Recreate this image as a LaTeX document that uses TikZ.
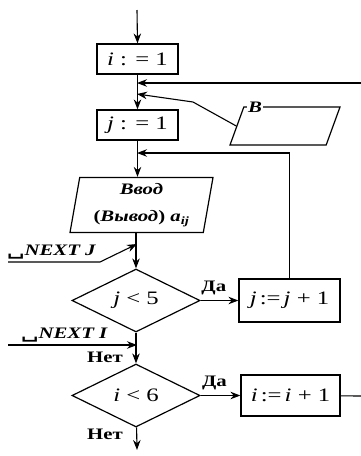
\documentclass[tikz,border=0pt]{standalone}
\usepackage{fontspec}
\setmainfont{Liberation Serif}[FakeStretch=1.3]
\newfontfamily\symfont{DejaVu Serif}[FakeStretch=1.3]
\usetikzlibrary{arrows.meta, positioning, shapes.geometric}
\newcommand{\vis}{{\symfont\char"2423}}

\begin{document}
\begin{tikzpicture}[x=1pt, y=-1pt,
    every node/.style={font=\fontsize{16}{27}\selectfont\bfseries},
    formula/.style={font=\fontsize{19}{22}\selectfont\mdseries},
    proc/.style={draw, line width=1.2pt, inner sep=0pt, formula,
                minimum width=81pt, minimum height=30pt},
    io/.style={draw, line width=1.2pt, trapezium, trapezium stretches body,
                trapezium left angle=80, trapezium right angle=100,
                inner xsep=0pt, align=center},
    cond/.style={draw, line width=1.2pt, diamond, inner sep=0pt, formula,
                minimum width=128pt, minimum height=63pt},
    arr/.style={-{Stealth[length=10pt, width=7.5pt]}, line width=1.1pt},
    lbl/.style={inner sep=0pt}
]
    \useasboundingbox (0,0) rectangle (361,456);

    \node[proc] (i1) at (137.5,59) {\textit{i} : = 1};
    \node[proc] (j1) at (137.5,125) {\textit{j} : = 1};
    \node[io, inner ysep=6pt, minimum width=143pt] (inp) at (141.5,205)
        {\textit{Ввод}\\(\textit{Вывод}) \textit{a}\textsubscript{\textit{ij}}};
    \node[io, trapezium left angle=70, trapezium right angle=110,
          inner ysep=19pt, minimum width=110pt] (bb) at (285,126) {};
    \node[lbl, fill=white, inner xsep=1pt] (blbl) at (255,107) {\textit{B}};

    \node[cond] (c1) at (136,300.5) {\textit{j} < 5};
    \node[cond] (c2) at (136,395.5) {\textit{i} < 6};
    \node[proc, minimum width=101pt, minimum height=43pt] (jinc) at (289.5,300.5)
        {\textit{j}\,:=\,\textit{j} + 1};
    \node[proc, minimum width=99pt, minimum height=41pt] (iinc) at (290.5,395.5)
        {\textit{i}\,:=\,\textit{i} + 1};

    \node[lbl, anchor=south west] (nextj) at (7,259) {\vis\textit{NEXT J}};
    \node[lbl, anchor=south west] (nexti) at (21,342) {\vis\textit{NEXT I}};
    \node[lbl] (no1) at (105,357) {Нет};
    \node[lbl] (no2) at (105,434) {Нет};

    \coordinate (start) at (137,10);
    \coordinate (m1) at (137,83);
    \coordinate (m2) at (137,94);
    \coordinate (m3) at (137,153);
    \coordinate (m4) at (137,244);
    \coordinate (m5) at (137,345);
    \coordinate (endp) at (137,450);
    \coordinate (edge1) at (361,83);
    \coordinate (edge2) at (361,396);
    \coordinate (bend) at (193,102);
    \coordinate (nj0) at (8,262);
    \coordinate (nj1) at (100,262);
    \coordinate (ni0) at (8,345);

    \draw[arr] (start) -- (i1.north);
    \draw[arr] (i1) -- (j1);
    \draw[arr] (j1) -- (j1.south |- inp.north);
    \draw[arr] (c1.north |- inp.south) -- (c1.north);
    \draw[arr] (c1) -- (c2);
    \draw[arr] (c2) -- (endp);
    \draw[arr] (c1) -- node[lbl, above=5pt, pos=0.35]{Да} (jinc);
    \draw[arr] (c2) -- node[lbl, above=5pt, pos=0.35]{Да} (iinc);
    \draw[line width=1.1pt] (iinc) -- (edge2);
    \draw[arr] (edge1) -- (m1);
    \draw[arr] (bb.west) -- (bend) -- (m2);
    \draw[arr] (jinc.north) |- (m3);
    \draw[arr] (nj0) -- (nj1) -- (m4);
    \draw[arr] (ni0) -- (m5);
\end{tikzpicture}
\end{document}
